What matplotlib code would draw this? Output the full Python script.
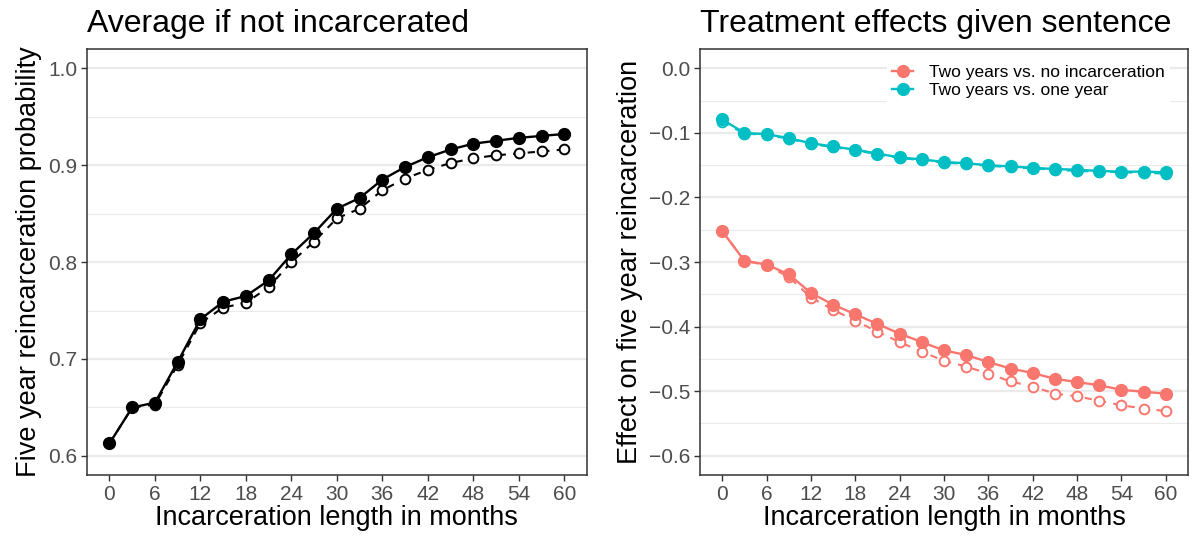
import matplotlib
matplotlib.use("Agg")
import matplotlib.pyplot as plt
from matplotlib.ticker import MultipleLocator

plt.rcParams['font.family'] = ['Liberation Sans', 'DejaVu Sans']

# months of incarceration (every 3 months)
months = [0, 3, 6, 9, 12, 15, 18, 21, 24, 27, 30, 33, 36, 39, 42, 45, 48, 51, 54, 57, 60]

# left panel: average reincarceration if not incarcerated
avg_solid = [0.613, 0.650, 0.655, 0.697, 0.741, 0.759, 0.765, 0.781, 0.808, 0.830, 0.855,
             0.866, 0.885, 0.898, 0.908, 0.916, 0.922, 0.925, 0.928, 0.930, 0.932]
avg_open = [0.613, 0.650, 0.653, 0.694, 0.737, 0.753, 0.758, 0.774, 0.800, 0.821, 0.845,
            0.855, 0.874, 0.886, 0.895, 0.902, 0.907, 0.910, 0.912, 0.914, 0.916]

# right panel: treatment effects
red_solid = [-0.252, -0.298, -0.304, -0.319, -0.348, -0.366, -0.381, -0.396, -0.411, -0.424, -0.437,
             -0.444, -0.455, -0.465, -0.472, -0.481, -0.486, -0.491, -0.498, -0.501, -0.504]
red_open = [-0.252, -0.298, -0.305, -0.323, -0.355, -0.374, -0.391, -0.408, -0.424, -0.439, -0.453,
            -0.462, -0.473, -0.485, -0.493, -0.504, -0.508, -0.515, -0.522, -0.527, -0.531]
teal_solid = [-0.079, -0.100, -0.102, -0.108, -0.116, -0.121, -0.126, -0.132, -0.138, -0.141, -0.145,
              -0.147, -0.150, -0.152, -0.154, -0.156, -0.157, -0.159, -0.160, -0.160, -0.161]
teal_open = [-0.083, -0.101, -0.103, -0.109, -0.117, -0.122, -0.127, -0.133, -0.139, -0.142, -0.146,
             -0.148, -0.151, -0.153, -0.155, -0.157, -0.159, -0.160, -0.161, -0.162, -0.163]

RED = '#F8766D'
TEAL = '#00BFC4'

fig = plt.figure(figsize=(11.98, 5.41), dpi=100)
ax1 = fig.add_axes([0.0724, 0.122, 0.4176, 0.7874])
ax2 = fig.add_axes([0.5843, 0.122, 0.4073, 0.7874])


def style(ax, ylim, major):
    ax.set_xlim(-3, 63)
    ax.set_ylim(*ylim)
    ax.xaxis.set_major_locator(MultipleLocator(6))
    ax.yaxis.set_major_locator(MultipleLocator(major))
    ax.yaxis.set_minor_locator(MultipleLocator(major / 2))
    ax.grid(True, which='major', axis='y', color='#EBEBEB', lw=1.6, zorder=0)
    ax.grid(True, which='minor', axis='y', color='#EBEBEB', lw=0.8, zorder=0)
    ax.tick_params(which='minor', length=0)
    ax.tick_params(which='major', length=4, width=1, color='#333333', pad=3,
                   labelsize=15, labelcolor='#4D4D4D')
    for s in ax.spines.values():
        s.set_color('#333333')
        s.set_linewidth(1.1)
    ax.set_axisbelow(True)
    ax.set_xlabel('Incarceration length in months', fontsize=19.5, labelpad=1)


def draw(ax, x, solid, opn, color, label=None):
    ax.plot(x, opn, color=color, lw=1.5, dashes=(3.5, 3.5), marker='o', ms=7,
            mfc='white', mec=color, mew=1.4, zorder=3)
    ax.plot(x, solid, color=color, lw=1.7, marker='o', ms=8.5,
            mfc=color, mec=color, zorder=4, label=label)


draw(ax1, months, avg_solid, avg_open, 'black')
style(ax1, (0.5804, 1.0196), 0.1)
ax1.set_yticks([0.6, 0.7, 0.8, 0.9, 1.0])
ax1.set_yticklabels(['0.6', '0.7', '0.8', '0.9', '1.0'])
ax1.set_ylabel('Five year reincarceration probability', fontsize=19.5, labelpad=4)
ax1.set_title('Average if not incarcerated', fontsize=23, loc='left', x=0.0, pad=12)

draw(ax2, months, red_solid, red_open, RED, 'Two years vs. no incarceration')
draw(ax2, months, teal_solid, teal_open, TEAL, 'Two years vs. one year')
style(ax2, (-0.63, 0.03), 0.1)
yt = [0.0, -0.1, -0.2, -0.3, -0.4, -0.5, -0.6]
ax2.set_yticks(yt)
ax2.set_yticklabels(['0.0'] + ['\u2212%.1f' % abs(v) for v in yt[1:]])
ax2.set_ylabel('Effect on five year reincarceration', fontsize=19.5, labelpad=4)
ax2.set_title('Treatment effects given sentence', fontsize=23, loc='left', x=0.0, pad=12)

leg = ax2.legend(loc='upper right', bbox_to_anchor=(0.963, 0.974), fontsize=12.5,
                 frameon=True, fancybox=False, edgecolor='white', framealpha=1,
                 handlelength=1.2, handletextpad=0.9, borderpad=0.3, labelspacing=0.15,
                 borderaxespad=0)
leg.get_frame().set_linewidth(0)

fig.savefig('out.png', dpi=100)
